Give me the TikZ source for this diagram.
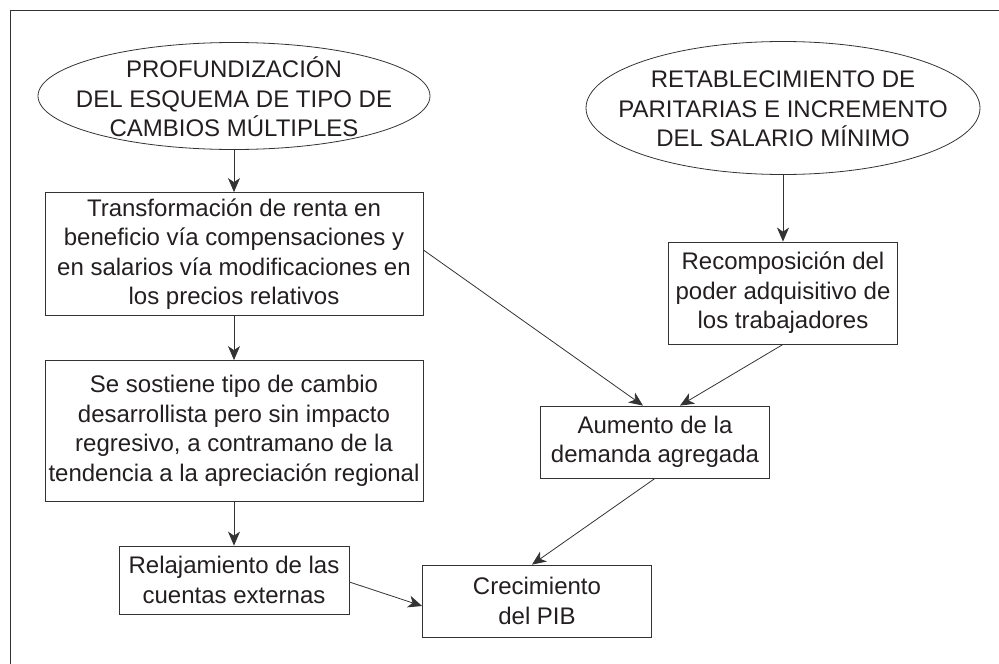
\documentclass[tikz,border=0pt]{standalone}
\usepackage{fontspec}
\setmainfont{Liberation Sans}
\usepackage{xcolor}
\usepackage{tikz}
\usetikzlibrary{shapes.geometric,arrows.meta}

\definecolor{linea}{HTML}{333333}
\definecolor{texto}{HTML}{231F20}

\begin{document}
\begin{tikzpicture}[x=1pt, y=-1pt,
  every node/.style={font=\fontsize{24}{29.5}\selectfont, text=texto, align=center, inner sep=0pt},
  caja/.style={draw=linea, line width=0.8pt, rectangle},
  elipse/.style={draw=linea, line width=0.8pt, ellipse},
  flecha/.style={draw=linea, line width=0.8pt, -{Stealth[length=14pt, width=12pt, inset=4pt]}}]
  \useasboundingbox (0,0) rectangle (999,664);
  \draw[linea, line width=1pt] (10,670) -- (10,10) -- (1005,10);

  % elipses (texto aparte, para fijar el tamano)
  \node[elipse, minimum width=392pt, minimum height=107pt] (e1) at (234,96) {};
  \node (t1) at (234,97) {PROFUNDIZACIÓN\\DEL ESQUEMA DE TIPO DE\\CAMBIOS MÚLTIPLES};
  \node[elipse, minimum width=394pt, minimum height=133pt] (e2) at (783,108) {};
  \node (t2) at (783,109) {RETABLECIMIENTO DE\\PARITARIAS E INCREMENTO\\DEL SALARIO MÍNIMO};

  \node[caja, minimum width=378pt, minimum height=123pt] (c1) at (234,254)
    {Transformación de renta en\\beneficio vía compensaciones y\\en salarios vía modificaciones en\\los precios relativos};
  \node[caja, minimum width=378pt, minimum height=141pt] (c2) at (234,431)
    {Se sostiene tipo de cambio\\desarrollista pero sin impacto\\regresivo, a contramano de la\\tendencia a la apreciación regional};
  \node[caja, minimum width=230pt, minimum height=68pt] (c3) at (234,580)
    {Relajamiento de las\\cuentas externas};
  \node[caja, minimum width=229pt, minimum height=102pt] (c4) at (783,293)
    {Recomposición del\\poder adquisitivo de\\los trabajadores};
  \node[caja, minimum width=229pt, minimum height=72pt] (c5) at (655,442)
    {Aumento de la\\demanda agregada};
  \node[caja, minimum width=229pt, minimum height=72pt] (c6) at (537,601)
    {Crecimiento\\del PIB};

  \draw[flecha] (e1) -- (c1);
  \draw[flecha] (c1) -- (c2);
  \draw[flecha] (c2) -- (c3);
  \draw[flecha] (e2) -- (c4);
  \draw[flecha] ([yshift=4pt]c1.east) -- ([xshift=-12pt]c5.north);
  \draw[flecha] (c4.south) -- ([xshift=25pt]c5.north);
  \draw[flecha] (c5.south) -- ([xshift=-5pt]c6.north);
  \draw[flecha] ([yshift=-2pt]c3.east) -- ([yshift=-5pt]c6.west);
\end{tikzpicture}
\end{document}
